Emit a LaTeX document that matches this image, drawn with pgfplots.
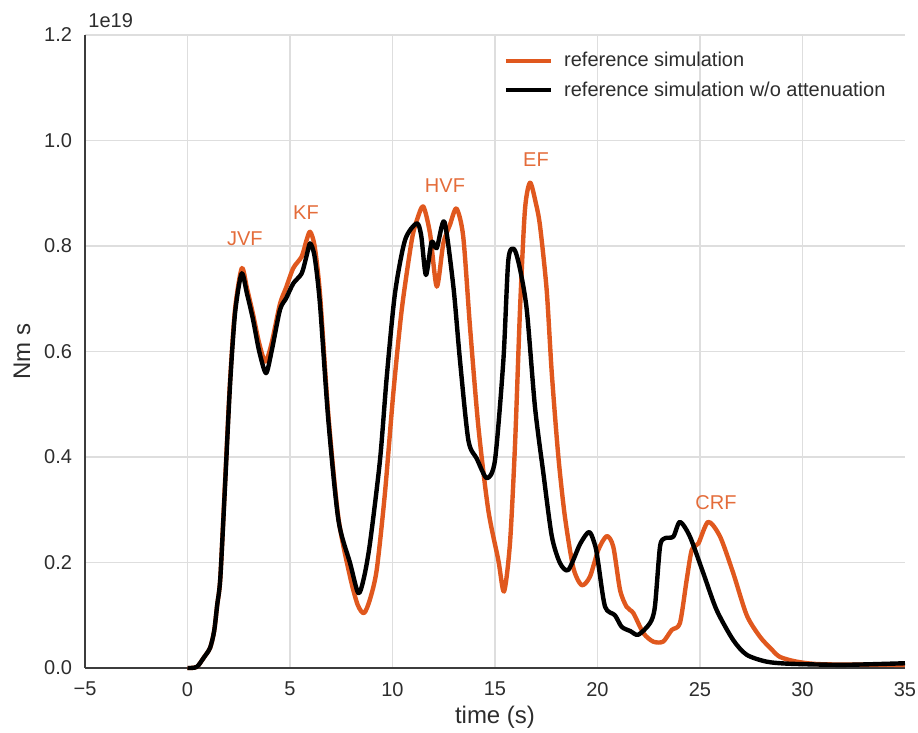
\documentclass[border=0pt]{standalone}
\usepackage{pgfplots}
\pgfplotsset{compat=1.18}
\usepackage{fontspec}
\setmainfont{Liberation Sans}

\definecolor{simorange}{RGB}{224,88,30}
\definecolor{annorange}{RGB}{228,108,58}
\definecolor{gridgray}{RGB}{222,222,222}
\definecolor{spinegray}{RGB}{60,60,60}
\definecolor{labelgray}{RGB}{45,45,45}

\begin{document}
\begin{tikzpicture}
\useasboundingbox (-42.5pt,-32.5pt) rectangle (416.5pt,334pt);
\begin{axis}[
  at={(0,0)}, anchor=south west,
  scale only axis, width=410pt, height=316.5pt,
  xmin=-5, xmax=35, ymin=0, ymax=1.2,
  axis lines*=left,
  axis line style={spinegray, line width=1.1pt},
  xtick={-5,0,5,10,15,20,25,30},
  xticklabels={−5,0,5,10,15,20,25,30},
  extra x ticks={35}, extra x tick labels={35},
  extra x tick style={grid=none},
  ytick={0,0.2,0.4,0.6,0.8,1.0,1.2},
  scaled y ticks=false,
  yticklabel style={/pgf/number format/fixed, /pgf/number format/fixed zerofill,
    /pgf/number format/precision=1, xshift=-3pt},
  /pgf/number format/assume math mode=true,
  major tick length=0pt,
  grid=major,
  major grid style={gridgray, line width=0.6pt},
  ticklabel style={font=\fontsize{10}{12}\selectfont, text=labelgray},
  xticklabel style={yshift=-3.5pt},
  xlabel={time (s)}, ylabel={Nm s},
  label style={font=\fontsize{12}{14}\selectfont, text=labelgray},
  xlabel style={yshift=2pt},
  ylabel style={yshift=0pt},
  legend cell align=left,
  legend style={at={(rel axis cs:0.984,0.983)}, anchor=north east,
    draw=none, fill=none, font=\fontsize{10}{12}\selectfont, text=labelgray,
    row sep=2pt, inner sep=1pt},
  legend image code/.code={\draw[#1, line width=2pt] (0pt,0pt) -- (22.5pt,0pt);
    \path (26pt,0pt);},
  clip=false,
]
% reference simulation
\addplot[simorange, line width=2.2pt, line join=round, smooth, tension=0.45] coordinates {
(0,0) (0.45,0.002) (0.8,0.02) (1.1,0.038) (1.3,0.07) (1.45,0.12) (1.6,0.17)
(1.83,0.35) (2.07,0.54) (2.32,0.68) (2.65,0.758) (2.9,0.72) (3.2,0.67)
(3.5,0.615) (3.8,0.581) (4.1,0.615) (4.51,0.69) (4.8,0.72) (5.16,0.758)
(5.57,0.78) (5.8,0.81) (5.98,0.827) (6.2,0.8) (6.46,0.71) (6.87,0.48)
(7.36,0.285) (7.93,0.173) (8.3,0.12) (8.61,0.104) (8.9,0.13) (9.23,0.186)
(9.63,0.331) (10.04,0.521) (10.45,0.679) (10.94,0.811) (11.2,0.85) (11.5,0.875)
(11.83,0.824) (12.16,0.723) (12.48,0.805) (12.8,0.84) (13.12,0.871) (13.45,0.818)
(13.78,0.647) (14.19,0.457) (14.67,0.3) (15.16,0.205) (15.44,0.145) (15.73,0.236)
(15.98,0.426) (16.22,0.679) (16.46,0.868) (16.71,0.92) (17.0,0.88) (17.2,0.837)
(17.52,0.717) (17.77,0.559) (18.09,0.401) (18.41,0.287) (18.82,0.19) (19.23,0.157)
(19.63,0.173) (20.04,0.224) (20.45,0.25) (20.77,0.23) (21.1,0.148) (21.42,0.116)
(21.75,0.104) (22.24,0.066) (22.72,0.05) (23.2,0.05) (23.62,0.072) (24.02,0.085)
(24.35,0.167) (24.6,0.224) (24.92,0.236) (25.4,0.277) (25.98,0.249) (26.62,0.18)
(27.28,0.1) (27.93,0.059) (28.5,0.035) (28.9,0.021) (29.72,0.012) (31,0.007)
(35,0.006)
};
\addlegendentry{reference simulation}
% reference simulation without attenuation
\addplot[black, line width=2.2pt, line join=round, smooth, tension=0.45] coordinates {
(0,0) (0.45,0.002) (0.8,0.02) (1.1,0.038) (1.3,0.07) (1.45,0.12) (1.6,0.17)
(1.83,0.344) (2.07,0.533) (2.32,0.673) (2.64,0.748) (2.9,0.71) (3.2,0.66)
(3.5,0.6) (3.83,0.559) (4.1,0.6) (4.51,0.679) (4.8,0.7) (5.16,0.729)
(5.57,0.748) (5.8,0.78) (5.98,0.805) (6.2,0.78) (6.46,0.691) (6.87,0.47)
(7.36,0.281) (7.93,0.199) (8.33,0.142) (8.6,0.17) (8.9,0.236) (9.39,0.394)
(9.72,0.552) (10.12,0.71) (10.61,0.811) (11.18,0.843) (11.4,0.82) (11.63,0.745)
(11.91,0.808) (12.16,0.796) (12.53,0.846) (12.97,0.723) (13.29,0.584) (13.7,0.432)
(14.11,0.397) (14.6,0.36) (15.0,0.394) (15.41,0.584) (15.65,0.773) (15.93,0.794)
(16.2,0.76) (16.55,0.679) (16.95,0.495) (17.36,0.369) (17.77,0.25) (18.17,0.199)
(18.58,0.186) (19.15,0.235) (19.6,0.258) (19.9,0.23) (20.04,0.198) (20.37,0.116)
(20.85,0.1) (21.18,0.078) (21.6,0.07) (21.99,0.063) (22.56,0.085) (22.8,0.116)
(23.05,0.23) (23.29,0.246) (23.7,0.249) (24.02,0.277) (24.51,0.249) (25.16,0.18)
(25.81,0.11) (26.62,0.053) (27.28,0.025) (28.25,0.012) (29.4,0.008) (32,0.006)
(35,0.009)
};
\addlegendentry{reference simulation w/o attenuation}

% fault segment labels
\begin{scope}[every node/.style={font=\fontsize{10}{12}\selectfont, text=annorange}]
\node at (axis cs:2.8,0.814) {JVF};
\node at (axis cs:5.78,0.864) {KF};
\node at (axis cs:12.56,0.914) {HVF};
\node at (axis cs:17.0,0.963) {EF};
\node at (axis cs:25.78,0.313) {CRF};
\end{scope}
% scale factor of the y axis
\node[anchor=base west, font=\fontsize{10}{12}\selectfont, text=labelgray, inner sep=0pt]
  at ([xshift=1.5pt,yshift=3.5pt]rel axis cs:0,1) {1e19};
\end{axis}
\end{tikzpicture}
\end{document}
